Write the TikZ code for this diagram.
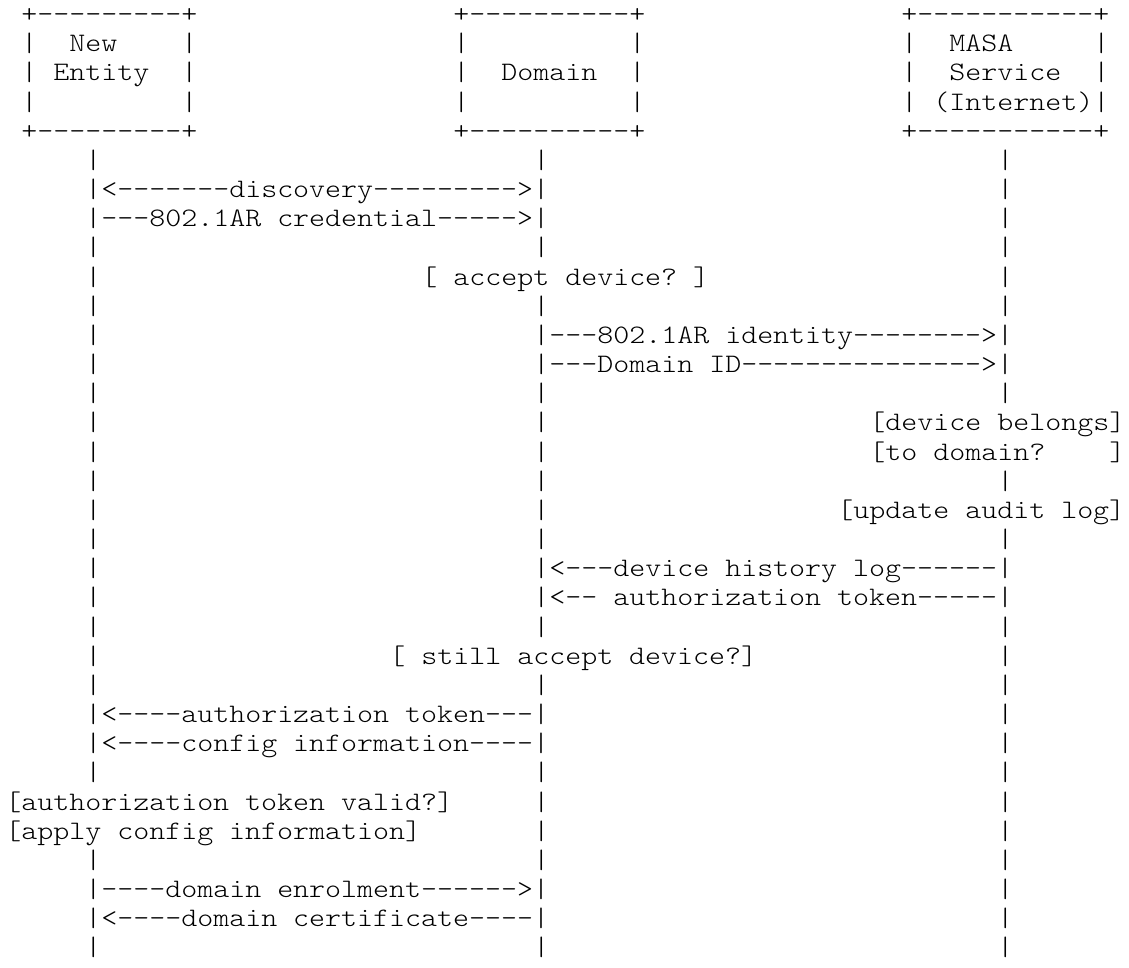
\documentclass[tikz,border=0pt]{standalone}
\usepackage{fontspec}
% light typewriter face, widened so one character cell is 0.6em
\setmonofont{lmmonolt10-regular.otf}[FakeStretch=1.142857]
\tikzset{
  ascii/.style={anchor=base west, inner sep=0pt, outer sep=0pt,
    font=\ttfamily\fontsize{26.66pt}{29.17pt}\selectfont, text=black},
}
\begin{document}
\begin{tikzpicture}
\useasboundingbox[fill=white] (0pt,0pt) rectangle (1129pt,-967pt);
% one unit = one character cell: x = column, y = text row
\begin{scope}[shift={(5.3pt,-22.5pt)}, x=16pt, y=-29.17pt]
  % participant boxes
  \node[ascii] (entity-top) at (1,0) {+---------+};
  \node[ascii] (domain-top) at (28,0) {+----------+};
  \node[ascii] (masa-top)   at (56,0) {+-----------+};

  \node[ascii] (entity-l1) at (1,1) {|};
  \node[ascii] (entity-t1) at (4,1) {New};
  \node[ascii] (entity-r1) at (11,1) {|};
  \node[ascii] (domain-l1) at (28,1) {|};
  \node[ascii] (domain-r1) at (39,1) {|};
  \node[ascii] (masa-l1)   at (56,1) {|};
  \node[ascii] (masa-t1)   at (59,1) {MASA};
  \node[ascii] (masa-r1)   at (68,1) {|};

  \node[ascii] (entity-l2) at (1,2) {|};
  \node[ascii] (entity-t2) at (3,2) {Entity};
  \node[ascii] (entity-r2) at (11,2) {|};
  \node[ascii] (domain-l2) at (28,2) {|};
  \node[ascii] (domain-t2) at (31,2) {Domain};
  \node[ascii] (domain-r2) at (39,2) {|};
  \node[ascii] (masa-l2)   at (56,2) {|};
  \node[ascii] (masa-t2)   at (59,2) {Service};
  \node[ascii] (masa-r2)   at (68,2) {|};

  \node[ascii] (entity-l3) at (1,3) {|};
  \node[ascii] (entity-r3) at (11,3) {|};
  \node[ascii] (domain-l3) at (28,3) {|};
  \node[ascii] (domain-r3) at (39,3) {|};
  \node[ascii] (masa-l3)   at (56,3) {|};
  \node[ascii] (masa-t3)   at (58,3) {(Internet)|};

  \node[ascii] (entity-bot) at (1,4) {+---------+};
  \node[ascii] (domain-bot) at (28,4) {+----------+};
  \node[ascii] (masa-bot)   at (56,4) {+-----------+};

  % plain lifeline rows
  \foreach \r in {5,8,10,13,16,18,21,23,26,29,32}{
    \node[ascii] (bar-\r-e) at (5,\r) {|};
    \node[ascii] (bar-\r-d) at (33,\r) {|};
    \node[ascii] (bar-\r-m) at (62,\r) {|};
  }

  % discovery and credential
  \node[ascii] (msg-discovery)  at (5,6) {|<-------discovery--------->|};
  \node[ascii] (bar-6-m)        at (62,6) {|};
  \node[ascii] (msg-credential) at (5,7) {|---802.1AR credential----->|};
  \node[ascii] (bar-7-m)        at (62,7) {|};

  \node[ascii] (bar-9-e)   at (5,9) {|};
  \node[ascii] (ask-accept) at (26,9) {[ accept device? ]};
  \node[ascii] (bar-9-m)   at (62,9) {|};

  % domain to MASA
  \node[ascii] (bar-11-e)     at (5,11) {|};
  \node[ascii] (msg-identity) at (33,11) {|---802.1AR identity-------->|};
  \node[ascii] (bar-12-e)     at (5,12) {|};
  \node[ascii] (msg-domainid) at (33,12) {|---Domain ID--------------->|};

  \node[ascii] (bar-14-e)   at (5,14) {|};
  \node[ascii] (bar-14-d)   at (33,14) {|};
  \node[ascii] (ask-belong) at (54,14) {[device belongs]};
  \node[ascii] (bar-15-e)   at (5,15) {|};
  \node[ascii] (bar-15-d)   at (33,15) {|};
  \node[ascii] (ask-domain) at (54,15) {[to domain?};
  \node[ascii] (ask-close)  at (69,15) {]};

  \node[ascii] (bar-17-e)  at (5,17) {|};
  \node[ascii] (bar-17-d)  at (33,17) {|};
  \node[ascii] (act-audit) at (52,17) {[update audit log]};

  % MASA back to domain
  \node[ascii] (bar-19-e)    at (5,19) {|};
  \node[ascii] (msg-history) at (33,19) {|<---device history log------|};
  \node[ascii] (bar-20-e)    at (5,20) {|};
  \node[ascii] (msg-token-m) at (33,20) {|<-- authorization token-----|};

  \node[ascii] (bar-22-e)   at (5,22) {|};
  \node[ascii] (ask-still)  at (24,22) {[ still accept device?]};
  \node[ascii] (bar-22-m)   at (62,22) {|};

  % domain back to new entity
  \node[ascii] (msg-token-d) at (5,24) {|<----authorization token---|};
  \node[ascii] (bar-24-m)    at (62,24) {|};
  \node[ascii] (msg-config)  at (5,25) {|<----config information----|};
  \node[ascii] (bar-25-m)    at (62,25) {|};

  \node[ascii] (ask-valid) at (0,27) {[authorization token valid?]};
  \node[ascii] (bar-27-d)  at (33,27) {|};
  \node[ascii] (bar-27-m)  at (62,27) {|};
  \node[ascii] (act-apply) at (0,28) {[apply config information]};
  \node[ascii] (bar-28-d)  at (33,28) {|};
  \node[ascii] (bar-28-m)  at (62,28) {|};

  % enrolment
  \node[ascii] (msg-enrol) at (5,30) {|----domain enrolment------>|};
  \node[ascii] (bar-30-m)  at (62,30) {|};
  \node[ascii] (msg-cert)  at (5,31) {|<----domain certificate----|};
  \node[ascii] (bar-31-m)  at (62,31) {|};
\end{scope}
\end{tikzpicture}
\end{document}
